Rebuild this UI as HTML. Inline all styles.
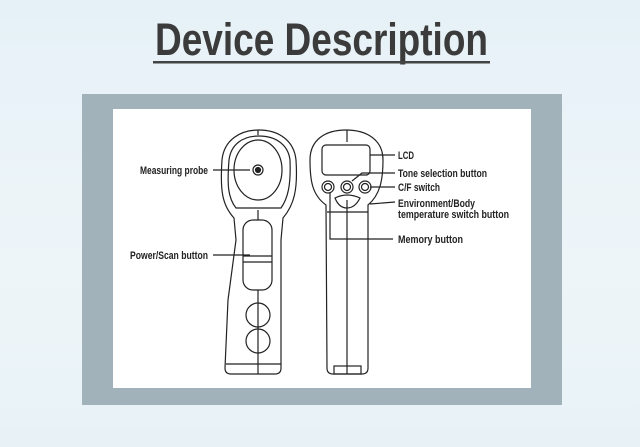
<!DOCTYPE html>
<html><head><style>
html,body{margin:0;padding:0;}
body{width:640px;height:447px;overflow:hidden;background:linear-gradient(180deg,#e6f1f7 0%,#eef5f9 60%,#e8f2f6 100%);}
</style></head><body>
<svg width="640" height="447" viewBox="0 0 640 447" xmlns="http://www.w3.org/2000/svg" style="display:block">
<text x="155" y="55" font-family="Liberation Sans, sans-serif" font-weight="bold" font-size="45" fill="#3b3b3b" textLength="333" lengthAdjust="spacingAndGlyphs">Device Description</text>
<rect x="153" y="61" width="337" height="2.5" fill="#444"/>
<rect x="82" y="94" width="480" height="311" fill="#a2b2bb"/>
<rect x="113" y="109" width="418" height="279" fill="#fff"/>
<g fill="none" stroke="#222" stroke-width="1.2">
<path d="M234,218 C222,205 220,190 222,160 C224,140 240,130 259,130 C278,130 294,140 296,160 C298,190 294,205 283,218 L281,240 L281,368 Q281,374 275,374 L231,374 Q225,374 225,368 L228,300 L236,240 Z"/>
<path d="M236,208 C228,198 227,185 229,160 C231,144 243,136 259,136 C275,136 288,144 290,160 C291,185 288,198 281,208 Z"/>
<ellipse cx="258" cy="170" rx="24" ry="30"/>
<circle cx="258" cy="170" r="5"/>
<circle cx="258" cy="170" r="2.5" fill="#222"/>
<rect x="243" y="220" width="29" height="70" rx="10"/>
<path d="M243,256 L272,256 M243,262 L272,262"/>
<ellipse cx="258" cy="315" rx="12" ry="12"/>
<ellipse cx="258" cy="341" rx="12" ry="12"/>
<path d="M258,130 L258,135 M258,210 L258,220 M258,290 L258,374 M226,364 L281,364"/>
<path d="M326,205 C312,195 310,180 310,160 C310,140 325,130 346,130 C367,130 383,140 383,160 C383,180 380,195 368,205 L368,368 Q368,374 362,374 L333,374 Q327,374 327,368 Z"/>
<rect x="322" y="145" width="48" height="30" rx="4"/>
<circle cx="328" cy="187" r="6"/><circle cx="328" cy="187" r="3.5"/>
<circle cx="347" cy="187" r="6"/><circle cx="347" cy="187" r="3.5"/>
<circle cx="365" cy="187" r="6"/><circle cx="365" cy="187" r="3.5"/>
<path d="M335,198 Q347,192 360,198 Q355,208 347,208 Q339,208 335,198 Z"/>
<path d="M327,212 L368,212"/>
<rect x="334" y="366" width="27" height="8"/>
<path d="M347,130 L347,142 M347,200 L347,374"/>
<path d="M330,192 L330,239 L393,239"/>
<path d="M213,170 L250,170 M213,255 L250,255 M370,155 L395,155 M352,181 L362,173 L395,173 M370,187 L395,187 M370,204 L395,202"/>
</g>
<g font-family="Liberation Sans, sans-serif" font-weight="bold" font-size="11" fill="#222">
<text x="140" y="174" textLength="68" lengthAdjust="spacingAndGlyphs">Measuring probe</text>
<text x="130" y="259" textLength="78" lengthAdjust="spacingAndGlyphs">Power/Scan button</text>
<text x="398" y="159" textLength="16" lengthAdjust="spacingAndGlyphs">LCD</text>
<text x="398" y="177" textLength="89" lengthAdjust="spacingAndGlyphs">Tone selection button</text>
<text x="398" y="191" textLength="42" lengthAdjust="spacingAndGlyphs">C/F switch</text>
<text x="398" y="207" textLength="77" lengthAdjust="spacingAndGlyphs">Environment/Body</text>
<text x="398" y="218" textLength="111" lengthAdjust="spacingAndGlyphs">temperature switch button</text>
<text x="398" y="243" textLength="65" lengthAdjust="spacingAndGlyphs">Memory button</text>
</g>
</svg>
</body></html>
